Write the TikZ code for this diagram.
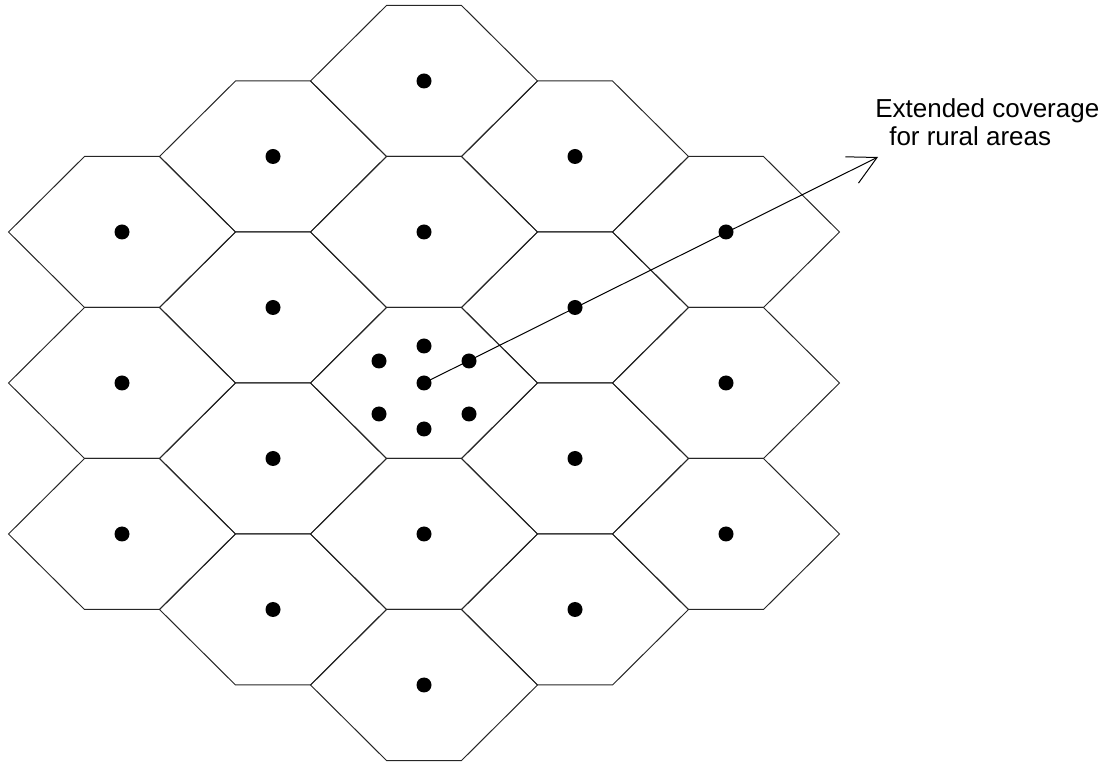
\documentclass[tikz,border=0pt]{standalone}
\usepackage{fontspec}
\setmainfont{Liberation Sans}
\usetikzlibrary{arrows.meta}
\begin{document}
\begin{tikzpicture}[x=0.75pt,y=-0.75pt,
  cellline/.style={line width=0.75pt, draw=black!85},
  dot/.style={circle, fill=black, draw=none, inner sep=0pt, minimum size=11.25pt},
  pointer/.style={line width=0.75pt, -{Straight Barb[length=21pt,width=22pt]}},
  label/.style={font=\fontsize{19.5pt}{21pt}\selectfont, anchor=base west, inner sep=0pt}]
\useasboundingbox (0,0) rectangle (1111,762);
% hexagonal cells with their base stations
\foreach \i/\jmin/\jmax/\off in {-2/-1/1/0, -1/-2/1/75.5, 0/-2/2/0, 1/-2/1/75.5, 2/-1/1/0}{
  \foreach \j in {\jmin,...,\jmax}{
    \pgfmathsetmacro\cx{424+151*\i}
    \pgfmathsetmacro\cy{383+151*\j+\off}
    \draw[cellline] (\cx-113.5,\cy) -- (\cx-37.5,\cy-75.5) -- (\cx+37.5,\cy-75.5)
      -- (\cx+113.5,\cy) -- (\cx+37.5,\cy+75.5) -- (\cx-37.5,\cy+75.5) -- cycle;
    \node[dot] (c\i\j) at (\cx,\cy) {};
  }
}
% extra stations in the central cell
\node[dot] (s1) at (424,346) {};
\node[dot] (s2) at (379,361) {};
\node[dot] (s3) at (469,361) {};
\node[dot] (s4) at (379,414) {};
\node[dot] (s5) at (469,414) {};
\node[dot] (s6) at (424,429) {};
% pointer
\coordinate (tip) at (878,157);
\draw[pointer] (c00.center) -- (tip);
% label
\node[label] (note1) at (875,117.3) {Extended coverage};
\node[label] (note2) at (889,145.3) {for rural areas};
\end{tikzpicture}
\end{document}
